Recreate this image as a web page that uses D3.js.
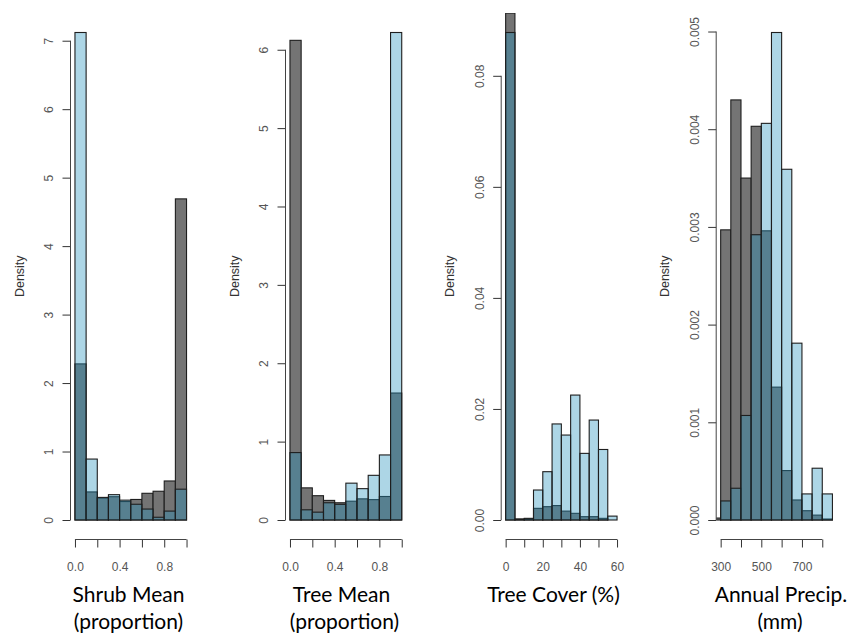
<!DOCTYPE html>
<html>
<head>
<meta charset="utf-8">
<script src="https://cdn.jsdelivr.net/npm/d3@7"></script>
<style>
  html, body { margin: 0; padding: 0; background: #fff; }
  svg { display: block; }
  .tick-label { font-family: "Liberation Sans", Arial, Helvetica, sans-serif; font-size: 12px; fill: #555; }
  .ylab { font-family: "Liberation Sans", Arial, Helvetica, sans-serif; font-size: 12.5px; fill: #333; }
  .xtitle { font-family: Lato, "Open Sans", sans-serif; font-size: 21px; fill: #000; }
</style>
</head>
<body>
<svg id="chart" width="852" height="637"></svg>
<script>
// Histogram bin edges and densities for each variable.
// "light" = light blue histogram, "dark" = grey histogram.
const shrubBreaks = [0, 0.1, 0.2, 0.3, 0.4, 0.5, 0.6, 0.7, 0.8, 0.9, 1.0];
const shrubLight  = [7.12, 0.89, 0.33, 0.37, 0.29, 0.23, 0.16, 0.04, 0.13, 0.45];
const shrubDark   = [2.28, 0.41, 0.32, 0.34, 0.27, 0.30, 0.39, 0.42, 0.57, 4.69];

const treeBreaks = [0, 0.1, 0.2, 0.3, 0.4, 0.5, 0.6, 0.7, 0.8, 0.9, 1.0];
const treeLight  = [0.86, 0.13, 0.10, 0.22, 0.20, 0.47, 0.40, 0.57, 0.83, 6.22];
const treeDark   = [6.12, 0.41, 0.31, 0.25, 0.22, 0.24, 0.27, 0.26, 0.30, 1.62];

const coverBreaks = [0, 5, 10, 15, 20, 25, 30, 35, 40, 45, 50, 55, 60];
const coverLight  = [0.0878, 0.0001, 0.0003, 0.0054, 0.0087, 0.0173, 0.0153, 0.0225, 0.0120, 0.0180, 0.0127, 0.0007];
const coverDark   = [0.0913, 0.0002, 0.0002, 0.0021, 0.0024, 0.0026, 0.0016, 0.0012, 0.0006, 0.0006, 0.0003, 0];

const precipBreaks = [250, 300, 350, 400, 450, 500, 550, 600, 650, 700, 750, 800, 850];
const precipLight  = [0, 0.000195, 0.000325, 0.00107, 0.00292, 0.00406, 0.00499, 0.00359, 0.00181, 0.000267, 0.00053, 0.000267];
const precipDark   = [0.00002, 0.00297, 0.00430, 0.00350, 0.00403, 0.00296, 0.00136, 0.000506, 0.000205, 0.000095, 0.00005, 0.00001];

// Axis ticks and labels
const shrubXTicks = [0, 0.2, 0.4, 0.6, 0.8, 1.0];
const shrubXLabels = ["0.0", "", "0.4", "", "0.8", ""];
const shrubYTicks = [0, 1, 2, 3, 4, 5, 6, 7];
const shrubYLabels = ["0", "1", "2", "3", "4", "5", "6", "7"];

const treeXTicks = [0, 0.2, 0.4, 0.6, 0.8, 1.0];
const treeXLabels = ["0.0", "", "0.4", "", "0.8", ""];
const treeYTicks = [0, 1, 2, 3, 4, 5, 6];
const treeYLabels = ["0", "1", "2", "3", "4", "5", "6"];

const coverXTicks = [0, 10, 20, 30, 40, 50, 60];
const coverXLabels = ["0", "", "20", "", "40", "", "60"];
const coverYTicks = [0, 0.02, 0.04, 0.06, 0.08];
const coverYLabels = ["0.00", "0.02", "0.04", "0.06", "0.08"];

const precipXTicks = [300, 400, 500, 600, 700, 800];
const precipXLabels = ["300", "", "500", "", "700", ""];
const precipYTicks = [0, 0.001, 0.002, 0.003, 0.004, 0.005];
const precipYLabels = ["0.000", "0.001", "0.002", "0.003", "0.004", "0.005"];

const titles = [
  ["Shrub Mean", "(proportion)"],
  ["Tree Mean", "(proportion)"],
  ["Tree Cover (%)"],
  ["Annual Precip.", "(mm)"]
];

// Panel layout (plot region in pixels, x limits of the data)
const panels = [
  { left: 70.5,  right: 191.0, xlim: [0, 1],     breaks: shrubBreaks,  light: shrubLight,  dark: shrubDark,
    xt: shrubXTicks,  xl: shrubXLabels,  yt: shrubYTicks,  yl: shrubYLabels,  title: titles[0], tx: [128.5, 128.5] },
  { left: 285.5, right: 406.2, xlim: [0, 1],     breaks: treeBreaks,   light: treeLight,   dark: treeDark,
    xt: treeXTicks,   xl: treeXLabels,   yt: treeYTicks,   yl: treeYLabels,   title: titles[1], tx: [341.5, 344.5] },
  { left: 501.2, right: 621.5, xlim: [0, 60],    breaks: coverBreaks,  light: coverLight,  dark: coverDark,
    xt: coverXTicks,  xl: coverXLabels,  yt: coverYTicks,  yl: coverYLabels,  title: titles[2], tx: [553.5] },
  { left: 716.2, right: 836.9, xlim: [300, 850], breaks: precipBreaks, light: precipLight, dark: precipDark,
    xt: precipXTicks, xl: precipXLabels, yt: precipYTicks, yl: precipYLabels, title: titles[3], tx: [781, 780] }
];

const plotTop = 13, plotBottom = 539.5;
const tick = 8;
const svg = d3.select("#chart");

panels.forEach((p, i) => {
  // R-style 4% padding of the axis limits
  const xpad = 0.04 * (p.xlim[1] - p.xlim[0]);
  const x = d3.scaleLinear().domain([p.xlim[0] - xpad, p.xlim[1] + xpad]).range([p.left, p.right]);
  const ymax = d3.max(p.light);
  const y = d3.scaleLinear().domain([-0.04 * ymax, 1.04 * ymax]).range([plotBottom, plotTop]);

  const clipId = "clip" + i;
  svg.append("clipPath").attr("id", clipId)
    .append("rect").attr("x", p.left).attr("y", plotTop)
    .attr("width", p.right - p.left).attr("height", plotBottom - plotTop);

  const g = svg.append("g");
  const bars = g.append("g").attr("clip-path", `url(#${clipId})`);

  const bins = (vals) => vals.map((v, k) => ({ x0: p.breaks[k], x1: p.breaks[k + 1], v }));

  // grey histogram underneath
  bars.selectAll("rect.dark").data(bins(p.dark)).join("rect")
    .attr("class", "dark")
    .attr("x", d => x(d.x0)).attr("width", d => x(d.x1) - x(d.x0))
    .attr("y", d => y(d.v)).attr("height", d => y(0) - y(d.v))
    .attr("fill", "#747474")
    .attr("stroke", "#1e1e1e").attr("stroke-width", 1.1);

  // translucent blue histogram on top
  bars.selectAll("rect.light").data(bins(p.light)).join("rect")
    .attr("class", "light")
    .attr("x", d => x(d.x0)).attr("width", d => x(d.x1) - x(d.x0))
    .attr("y", d => y(d.v)).attr("height", d => y(0) - y(d.v))
    .attr("fill", "rgb(40,148,190)").attr("fill-opacity", 0.38)
    .attr("stroke", "#1e1e1e").attr("stroke-width", 1.1);

  // y axis
  const ya = g.append("g").attr("transform", `translate(${p.left},0)`)
    .call(d3.axisLeft(y).tickValues(p.yt).tickSize(tick).tickFormat((d, k) => p.yl[k]));
  ya.select(".domain").remove();
  ya.selectAll(".tick line").attr("stroke", "#333");
  ya.selectAll(".tick text")
    .attr("class", "tick-label")
    .attr("x", null).attr("dy", null)
    .attr("transform", "translate(-17.5,0) rotate(-90)")
    .attr("text-anchor", "middle")
    .attr("fill", null);
  ya.append("line")
    .attr("x1", 0).attr("x2", 0)
    .attr("y1", y(p.yt[0])).attr("y2", y(p.yt[p.yt.length - 1]))
    .attr("stroke", "#444");
  ya.attr("font-family", null).attr("font-size", null);

  // x axis
  const xa = g.append("g").attr("transform", `translate(0,${plotBottom})`)
    .call(d3.axisBottom(x).tickValues(p.xt).tickSize(tick).tickFormat((d, k) => p.xl[k]));
  xa.select(".domain").remove();
  xa.selectAll(".tick line").attr("stroke", "#333");
  xa.selectAll(".tick text")
    .attr("class", "tick-label")
    .attr("y", 31.5).attr("dy", null)
    .attr("fill", null);
  xa.append("line")
    .attr("y1", 0).attr("y2", 0)
    .attr("x1", x(p.xt[0])).attr("x2", x(p.xt[p.xt.length - 1]))
    .attr("stroke", "#444");
  xa.attr("font-family", null).attr("font-size", null);

  // y axis title
  g.append("text").attr("class", "ylab")
    .attr("transform", `translate(${p.left - 47},${(plotTop + plotBottom) / 2}) rotate(-90)`)
    .attr("text-anchor", "middle")
    .text("Density");

  // variable title below the panel
  p.title.forEach((t, k) => {
    g.append("text").attr("class", "xtitle")
      .attr("x", p.tx[k]).attr("y", 602 + k * 26.5)
      .attr("text-anchor", "middle")
      .text(t);
  });
});
</script>
</body>
</html>
